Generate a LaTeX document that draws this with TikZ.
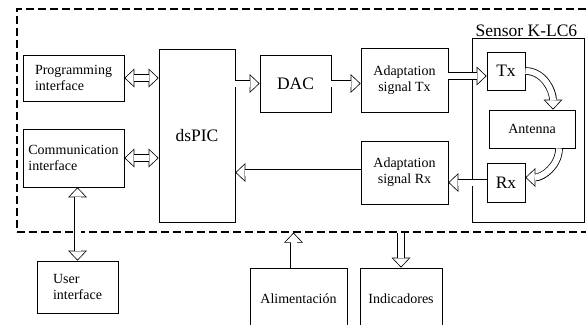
\documentclass[tikz,border=0pt]{standalone}
\usepackage{fontspec}
\setmainfont{Liberation Serif}
\usetikzlibrary{arrows.meta}
\tikzset{
  block/.style={draw, line width=0.8pt, inner sep=2pt, font=\fontsize{14}{16}\selectfont},
  bigtext/.style={font=\fontsize{17.5}{20}\selectfont},
  hollow/.style={line width=7.6pt, -{Triangle[length=10pt, width=19pt, line width=0pt]},
    postaction={draw=white, line width=6pt, shorten >=1.16pt, -{Triangle[length=8pt, width=15.3pt, line width=0pt]}}},
  hollowboth/.style={line width=7.6pt, {Triangle[length=10pt, width=19pt, line width=0pt]}-{Triangle[length=10pt, width=19pt, line width=0pt]},
    postaction={draw=white, line width=6pt, shorten >=1.16pt, shorten <=1.16pt, {Triangle[length=8pt, width=15.3pt, line width=0pt]}-{Triangle[length=8pt, width=15.3pt, line width=0pt]}}},
}
\begin{document}
\begin{tikzpicture}[x=1pt, y=-1pt]
\useasboundingbox (0,0) rectangle (586,324);
\node[draw, dashed, line width=1.3pt, dash pattern=on 8pt off 4pt, minimum width=575pt, minimum height=223pt] (board) at (304.5,120.5) {};
\node[block, minimum width=101pt, minimum height=46pt, align=left] (prog) at (73.5,78) {Programming\\interface};
\node[block, minimum width=101pt, minimum height=58pt, align=left] (comm) at (73.5,158) {Communication\\interface};
\node[block, minimum width=81pt, minimum height=52pt, align=left] (user) at (77.5,287) {User\\interface};
\node[block, bigtext, minimum width=76pt, minimum height=173pt] (dspic) at (197,135.5) {dsPIC};
\node[block, bigtext, minimum width=71pt, minimum height=57pt] (dac) at (295.5,83.5) {DAC};
\node[block, minimum width=87pt, minimum height=64pt, align=center] (adtx) at (404.5,80) {Adaptation\\signal Tx};
\node[block, minimum width=87pt, minimum height=63pt, align=center] (adrx) at (404.5,172.5) {Adaptation\\signal Rx};
\node[block, minimum width=112pt, minimum height=184pt] (sensor) at (528,130) {};
\node[bigtext, anchor=south east, inner sep=1pt] (sensorlabel) at ([xshift=-6pt]sensor.north east) {Sensor K-LC6};
\node[block, bigtext, minimum width=38pt, minimum height=38pt] (tx) at (506,71) {Tx};
\node[block, minimum width=86pt, minimum height=38pt] (ant) at (532,129) {Antenna};
\node[block, bigtext, minimum width=38pt, minimum height=39pt] (rx) at (506,182.5) {Rx};
\node[block, minimum width=97pt, minimum height=62pt] (alim) at (298.5,299) {Alimentación};
\node[block, minimum width=82pt, minimum height=62pt] (ind) at (401,299) {Indicadores};
\draw[hollowboth] (prog.east) -- (prog.east -| dspic.west);
\draw[hollowboth] (comm.east) -- (comm.east -| dspic.west);
\draw[hollowboth] (user.north) -- (user.north |- comm.south);
\draw[hollow] (dac.west -| dspic.east) -- (dac.west);
\draw[hollow] (dac.east) -- (dac.east -| adtx.west);
\draw[hollow] ([yshift=-5pt]tx.west -| adtx.east) -- ([yshift=-5pt]tx.west);
\draw[hollow] (tx.east) to[out=0, in=90] ([xshift=21pt]ant.north);
\draw[hollow] ([xshift=27pt]ant.south) to[out=-90, in=0] ([yshift=5pt]rx.east);
\draw[hollow] (rx.west) -- (rx.west -| adrx.east);
\draw[hollow] (adrx.west) -- (adrx.west -| dspic.east);
\draw[hollow] ([xshift=-5pt]alim.north) -- ([xshift=-5pt]alim.north |- board.south);
\draw[hollow] (ind.north |- board.south) -- (ind.north);
\end{tikzpicture}
\end{document}
